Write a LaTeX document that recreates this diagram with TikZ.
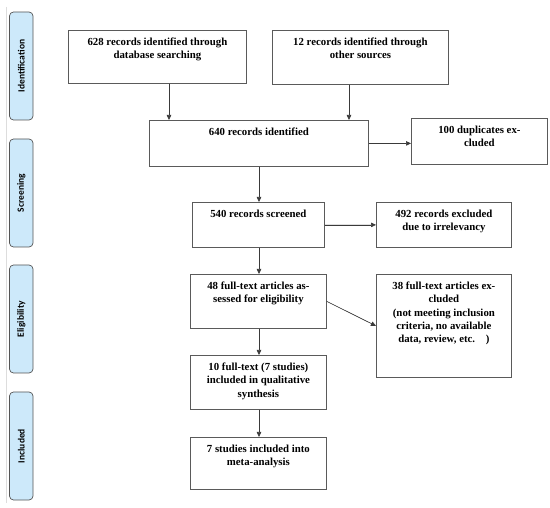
\documentclass[tikz,border=0pt]{standalone}
\usepackage{fontspec}
\setmainfont{Liberation Serif}
\newfontfamily\sidefont{Carlito}
\usetikzlibrary{arrows.meta}
\definecolor{boxgray}{HTML}{5A5A5A}
\definecolor{arrgray}{HTML}{3A3A3A}
\definecolor{sidegray}{HTML}{555555}
\definecolor{sideblue}{HTML}{CDE9FA}
\definecolor{linegray}{HTML}{DDDDDD}
\newcommand\bt[3]{\parbox[c][#1pt][t]{#2pt}{\centering\vspace*{7.5pt}#3\par}}
\begin{document}
\begin{tikzpicture}[x=1pt,y=-1pt,
  box/.style={draw=boxgray, line width=0.8pt, inner sep=0pt, anchor=north west,
    font=\bfseries\fontsize{10.8}{13.3}\selectfont},
  side/.style={draw=sidegray, fill=sideblue, line width=0.7pt, rounded corners=4pt,
    inner sep=0pt, rotate=90, minimum width=108pt, minimum height=23.5pt,
    font=\sidefont\bfseries\fontsize{9.5}{11}\selectfont},
  arr/.style={-{Triangle[length=5pt,width=4.5pt]}, line width=0.6pt, draw=arrgray, fill=black}]
\useasboundingbox (0,0) rectangle (550,508);
\draw[linegray, line width=0.8pt] (6,7) -- (6,503);
% side labels
\node[side] (s1) at (21.25,66) {Identification};
\node[side] (s2) at (21.25,193) {Screening};
\node[side] (s3) at (21.25,319) {Eligibility};
\node[side] (s4) at (21.25,446) {Included};
% boxes
\node[box] (b1) at (68,30) {\bt{53}{178}{628 records identified through\\database searching}};
\node[box] (b2) at (272,30) {\bt{54}{176}{12 records identified through\\other sources}};
\node[box] (b3) at (149,120) {\bt{46}{219}{640 records identified}};
\node[box] (b4) at (411,118) {\bt{46}{136}{100 duplicates ex-\\cluded}};
\node[box] (b5) at (192,202) {\bt{45}{132}{540 records screened}};
\node[box] (b6) at (376,202) {\bt{45}{135}{492 records excluded\\due to irrelevancy}};
\node[box] (b7) at (190,274) {\bt{54}{136}{48 full-text articles as-\\sessed for eligibility}};
\node[box] (b8) at (376,274) {\bt{103}{135}{38 full-text articles ex-\\cluded\\(not meeting inclusion\\criteria, no available\\data, review, etc.\ \ \ \ )}};
\node[box] (b9) at (190,355) {\bt{54}{136}{10 full-text (7 studies)\\included in qualitative\\synthesis}};
\node[box] (b10) at (190,437) {\bt{52}{136}{7 studies included into\\meta-analysis}};
% connectors
\coordinate (c1) at (169,0);
\coordinate (c2) at (349,0);
\coordinate (c3) at (259,0);
\draw[arr] (b1.south -| c1) -- (b3.north -| c1);
\draw[arr] (b2.south -| c2) -- (b3.north -| c2);
\draw[arr] (b3.east) -- (b3.east -| b4.west);
\draw[arr] (b3.south -| c3) -- (b5.north -| c3);
\draw[arr] (b5.east) -- (b5.east -| b6.west);
\draw[arr] (b5.south -| c3) -- (b7.north -| c3);
\draw[arr] (b7.east) -- (b8.west);
\draw[arr] (b7.south -| c3) -- (b9.north -| c3);
\draw[arr] (b9.south -| c3) -- (b10.north -| c3);
\end{tikzpicture}
\end{document}
